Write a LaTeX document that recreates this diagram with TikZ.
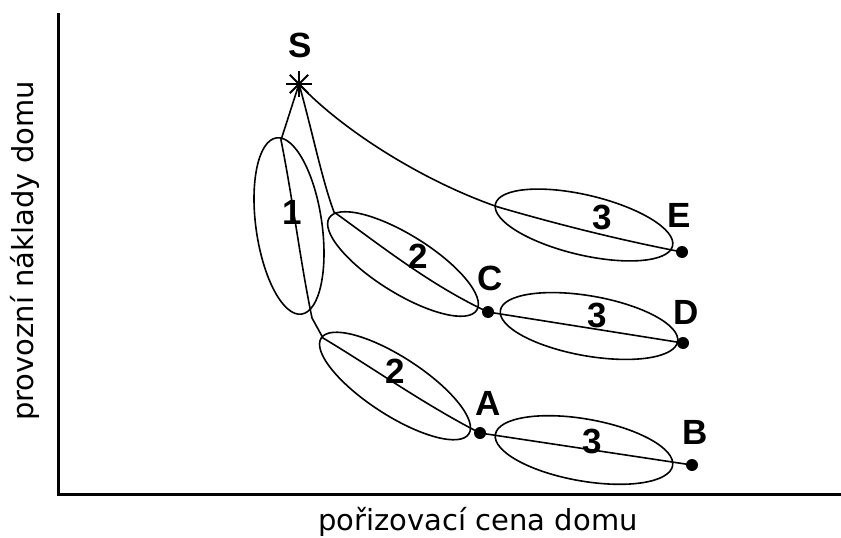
\documentclass[tikz,border=0pt]{standalone}
\usepackage{fontspec}
\setmainfont{Liberation Sans}
\newfontfamily\axfont{DejaVu Sans}
\begin{document}
\begin{tikzpicture}[x=1pt,y=-1pt,
  thin line/.style={line width=1.6pt},
  axis/.style={line width=3pt},
  lbl/.style={font=\fontsize{35}{35}\selectfont\bfseries, inner sep=0pt},
  axlbl/.style={font=\axfont\fontsize{29}{29}\selectfont, inner sep=0pt},
  dot/.style={circle, fill=black, inner sep=0pt, minimum size=12pt}]
\useasboundingbox (0,0) rectangle (841,538);
% axes
\coordinate (top) at (58,13);
\coordinate (origin) at (58,494);
\coordinate (right) at (841,494);
\draw[axis] (top) -- (origin) -- (right);
\node[axlbl, anchor=base] (xl) at (478,530) {pořizovací cena domu};
\node[axlbl, anchor=base, rotate=90] (yl) at (33,251) {provozní náklady domu};
% points
\coordinate (S) at (299,84);
\node[dot] (E) at (682,252) {};
\node[dot] (C) at (488,312) {};
\node[dot] (D) at (683,343) {};
\node[dot] (A) at (480,433) {};
\node[dot] (B) at (692,465) {};
\coordinate (p1) at (281,140);
\coordinate (p2) at (312,318);
\coordinate (p3) at (323,338);
\coordinate (q1) at (334,212);
\coordinate (r1) at (498,207);
% star
\foreach \a in {0,45,90,135}
  \draw[line width=2pt] (S) ++(\a:13pt) -- ++(\a+180:26pt);
% ellipses
\draw[thin line] (289,226) ellipse [x radius=89pt, y radius=33pt, rotate=-81.9];
\draw[thin line] (403,264) ellipse [x radius=87pt, y radius=29pt, rotate=-32];
\draw[thin line] (395,386) ellipse [x radius=88pt, y radius=29pt, rotate=-33];
\draw[thin line] (584,225) ellipse [x radius=91pt, y radius=30pt, rotate=-13.3];
\draw[thin line] (589,326) ellipse [x radius=90pt, y radius=30pt, rotate=-10];
\draw[thin line] (584,450) ellipse [x radius=90pt, y radius=31pt, rotate=-10];
% paths
\draw[thin line] (S) -- (p1) .. controls (293,200) and (300,260) .. (p2) -- (p3)
  .. controls (370,366) and (425,405) .. (A.center);
\draw[thin line] (S) .. controls (312,130) and (322,180) .. (q1)
  .. controls (380,245) and (430,285) .. (C.center);
\draw[thin line] (S) .. controls (340,128) and (420,180) .. (r1)
  .. controls (560,225) and (620,240) .. (E.center);
\draw[thin line] (C.center) -- (D.center);
\draw[thin line] (A.center) -- (B.center);
% labels
\node[lbl] (lS) at (300,45) {S};
\node[lbl] (l1) at (292,212) {1};
\node[lbl] (l2a) at (418,256) {2};
\node[lbl] (l3a) at (602,217) {3};
\node[lbl] (lE) at (679,215) {E};
\node[lbl] (lC) at (490,278) {C};
\node[lbl] (l3b) at (597,315) {3};
\node[lbl] (lD) at (686,312) {D};
\node[lbl] (l2b) at (395,371) {2};
\node[lbl] (lA) at (488,403) {A};
\node[lbl] (l3c) at (592,441) {3};
\node[lbl] (lB) at (695,432) {B};
\end{tikzpicture}
\end{document}
